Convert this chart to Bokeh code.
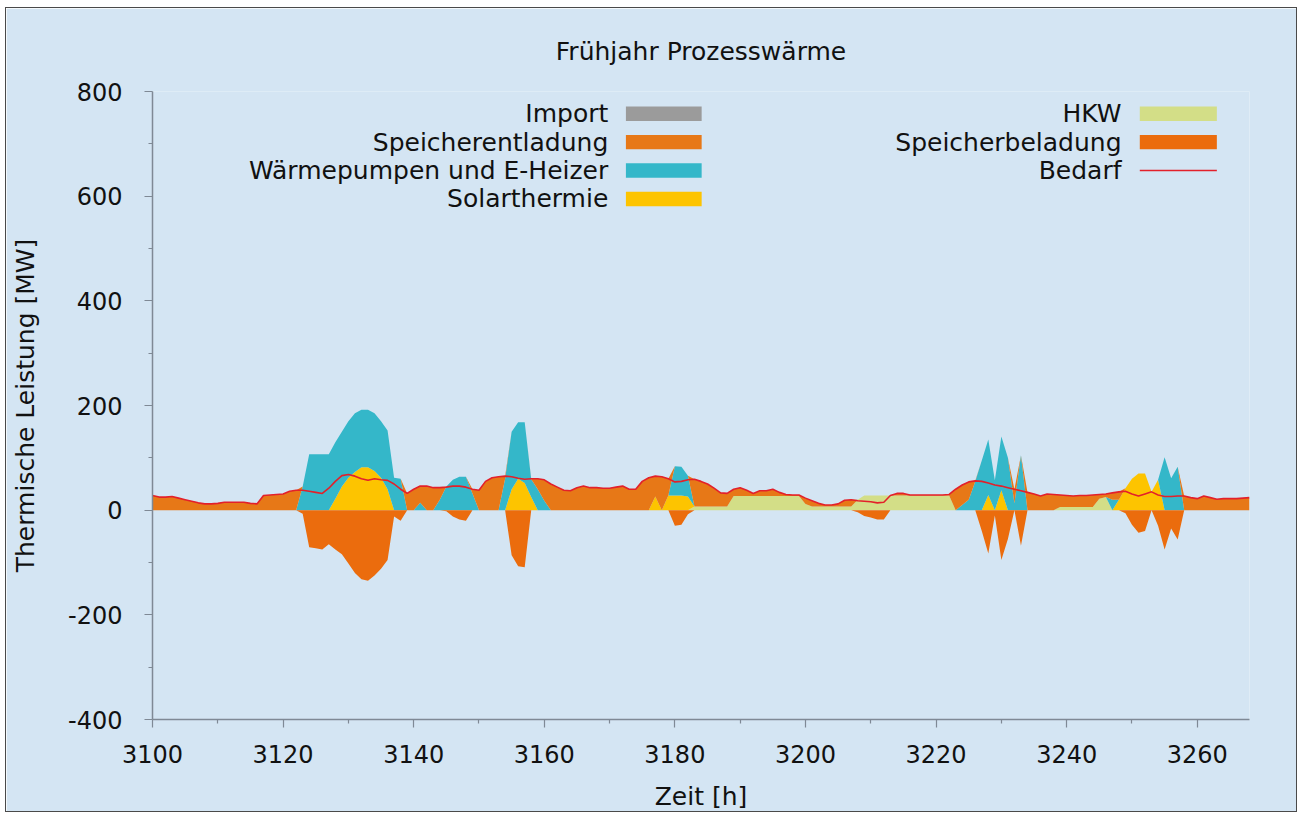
from bokeh.plotting import figure
from bokeh.models import ColumnDataSource, FixedTicker, Range1d, Label, BoxAnnotation
from bokeh.embed import file_html
from bokeh.resources import INLINE

# ---------------- data ----------------
hours = list(range(3100, 3269))

bedarf = [
    28, 25, 25, 26, 23, 20, 17, 14, 12, 12,   # 3100
    13, 15, 15, 15, 15, 13, 12, 28, 29, 30,   # 3110
    31, 36, 38, 38, 36, 34, 32, 42, 55, 66,   # 3120
    68, 65, 60, 57, 60, 58, 57, 50, 40, 32,   # 3130
    40, 46, 46, 43, 43, 44, 46, 46, 44, 40,   # 3140
    38, 55, 62, 64, 65, 64, 61, 59, 60, 60,   # 3150
    58, 50, 44, 38, 37, 43, 46, 43, 43, 42,   # 3160
    42, 44, 46, 40, 40, 55, 62, 65, 64, 60,   # 3170
    54, 55, 58, 59, 55, 50, 42, 33, 32, 40,   # 3180
    43, 38, 32, 37, 37, 40, 34, 30, 29, 29,   # 3190
    23, 18, 13, 10, 10, 12, 19, 20, 18, 17,   # 3200
    16, 14, 15, 28, 32, 32, 29, 29, 29, 29,   # 3210
    29, 29, 30, 40, 48, 54, 56, 55, 52, 48,   # 3220
    46, 43, 40, 37, 34, 31, 27, 31, 30, 29,   # 3230
    28, 27, 28, 28, 29, 30, 31, 33, 35, 36,   # 3240
    31, 27, 31, 35, 29, 26, 26, 27, 27, 24,   # 3250
    22, 27, 24, 21, 22, 22, 22, 23, 24,       # 3260
]

hkw = [
    0, 0, 0, 0, 0, 0, 0, 0, 0, 0,             # 3100
    0, 0, 0, 0, 0, 0, 0, 0, 0, 0,             # 3110
    0, 0, 0, 0, 0, 0, 0, 0, 0, 0,             # 3120
    0, 0, 0, 0, 0, 0, 0, 0, 0, 0,             # 3130
    0, 0, 0, 0, 0, 0, 0, 0, 0, 0,             # 3140
    0, 0, 0, 0, 0, 0, 0, 0, 0, 0,             # 3150
    0, 0, 0, 0, 0, 0, 0, 0, 0, 0,             # 3160
    0, 0, 0, 0, 0, 0, 0, 0, 0, 0,             # 3170
    0, 0, 0, 7, 7, 7, 7, 7, 7, 27,            # 3180
    27, 27, 27, 27, 27, 27, 27, 27, 27, 27,   # 3190
    12, 7, 7, 7, 7, 7, 7, 7, 20, 28,          # 3200
    28, 28, 28, 28, 28, 28, 28, 28, 28, 28,   # 3210
    28, 28, 28, 0, 0, 0, 0, 0, 0, 0,          # 3220
    0, 0, 0, 0, 0, 0, 0, 0, 0, 6,             # 3230
    6, 6, 6, 6, 6, 22, 25, 0, 0, 0,           # 3240
    0, 0, 0, 0, 0, 0, 0, 0, 0, 0,             # 3250
    0, 0, 0, 0, 0, 0, 0, 0, 0,                # 3260
]

solar = [
    0, 0, 0, 0, 0, 0, 0, 0, 0, 0,             # 3100
    0, 0, 0, 0, 0, 0, 0, 0, 0, 0,             # 3110
    0, 0, 0, 0, 0, 0, 0, 0, 22, 45,           # 3120
    62, 73, 82, 82, 75, 62, 40, 0, 0, 0,      # 3130
    0, 0, 0, 0, 0, 0, 0, 0, 0, 0,             # 3140
    0, 0, 0, 0, 0, 40, 60, 52, 25, 0,         # 3150
    0, 0, 0, 0, 0, 0, 0, 0, 0, 0,             # 3160
    0, 0, 0, 0, 0, 0, 0, 26, 0, 28,           # 3170
    28, 28, 26, 0, 0, 0, 0, 0, 0, 0,          # 3180
    0, 0, 0, 0, 0, 0, 0, 0, 0, 0,             # 3190
    0, 0, 0, 0, 0, 0, 0, 0, 0, 0,             # 3200
    0, 0, 0, 0, 0, 0, 0, 0, 0, 0,             # 3210
    0, 0, 0, 0, 0, 0, 0, 0, 29, 0,            # 3220
    38, 0, 0, 0, 0, 0, 0, 0, 0, 0,            # 3230
    0, 0, 0, 0, 0, 0, 0, 0, 20, 42,           # 3240
    60, 70, 70, 35, 58, 0, 0, 0, 0, 0,        # 3250
    0, 0, 0, 0, 0, 0, 0, 0, 0,                # 3260
]

waermepumpen = [
    0, 0, 0, 0, 0, 0, 0, 0, 0, 0,             # 3100
    0, 0, 0, 0, 0, 0, 0, 0, 0, 0,             # 3110
    0, 0, 0, 45, 107, 107, 107, 107, 108, 105,  # 3120
    108, 112, 110, 110, 110, 108, 112, 62, 60, 0,  # 3130
    0, 14, 0, 0, 20, 45, 58, 64, 64, 32,      # 3140
    0, 0, 0, 0, 60, 110, 108, 116, 34, 40,    # 3150
    18, 0, 0, 0, 0, 0, 0, 0, 0, 0,            # 3160
    0, 0, 0, 0, 0, 0, 0, 0, 0, 0,             # 3170
    56, 55, 40, 0, 0, 0, 0, 0, 0, 0,          # 3180
    0, 0, 0, 0, 0, 0, 0, 0, 0, 0,             # 3190
    0, 0, 0, 0, 0, 0, 0, 0, 0, 0,             # 3200
    0, 0, 0, 0, 0, 0, 0, 0, 0, 0,             # 3210
    0, 0, 0, 0, 10, 20, 55, 95, 106, 57,      # 3220
    103, 100, 13, 105, 0, 0, 0, 0, 0, 0,      # 3230
    0, 0, 0, 0, 0, 0, 0, 20, 0, 0,            # 3240
    0, 0, 0, 0, 0, 101, 61, 83, 0, 0,         # 3250
    0, 0, 0, 0, 0, 0, 0, 0, 0,                # 3260
]

speicherentladung = [
    28, 25, 25, 26, 23, 20, 17, 14, 12, 12,   # 3100
    13, 15, 15, 15, 15, 13, 12, 28, 29, 30,   # 3110
    31, 36, 38, 0, 0, 0, 0, 0, 0, 0,          # 3120
    0, 0, 0, 0, 0, 0, 0, 0, 0, 32,            # 3130
    40, 32, 46, 43, 23, 0, 0, 0, 0, 8,        # 3140
    38, 55, 62, 64, 5, 0, 0, 0, 1, 20,        # 3150
    40, 50, 44, 38, 37, 43, 46, 43, 43, 42,   # 3160
    42, 44, 46, 40, 40, 55, 62, 39, 64, 32,   # 3170
    0, 0, 0, 52, 48, 43, 35, 26, 25, 13,      # 3180
    16, 11, 5, 10, 10, 13, 7, 3, 2, 2,        # 3190
    11, 11, 6, 3, 3, 5, 12, 13, 0, 0,         # 3200
    0, 0, 0, 0, 4, 4, 1, 1, 1, 1,             # 3210
    1, 1, 2, 40, 38, 34, 1, 0, 0, 0,          # 3220
    0, 0, 27, 0, 34, 31, 27, 31, 30, 23,      # 3230
    22, 21, 22, 22, 23, 8, 6, 13, 15, 0,      # 3240
    0, 0, 0, 0, 0, 0, 0, 0, 27, 24,           # 3250
    22, 27, 24, 21, 22, 22, 22, 23, 24,       # 3260
]

speicherbeladung = [
    0, 0, 0, 0, 0, 0, 0, 0, 0, 0,             # 3100
    0, 0, 0, 0, 0, 0, 0, 0, 0, 0,             # 3110
    0, 0, 0, -7, -71, -73, -75, -65, -75, -84,  # 3120
    -102, -120, -132, -135, -125, -112, -95, -12, -20, 0,  # 3130
    0, 0, 0, 0, 0, -2, -12, -18, -20, 0,      # 3140
    0, 0, 0, 0, 0, -86, -107, -109, 0, 0,     # 3150
    0, 0, 0, 0, 0, 0, 0, 0, 0, 0,             # 3160
    0, 0, 0, 0, 0, 0, 0, 0, 0, 0,             # 3170
    -30, -28, -8, 0, 0, 0, 0, 0, 0, 0,        # 3180
    0, 0, 0, 0, 0, 0, 0, 0, 0, 0,             # 3190
    0, 0, 0, 0, 0, 0, 0, 0, -4, -11,          # 3200
    -14, -18, -18, 0, 0, 0, 0, 0, 0, 0,       # 3210
    0, 0, 0, 0, 0, 0, 0, -40, -83, -10,       # 3220
    -95, -55, 0, -68, 0, 0, 0, 0, 0, 0,       # 3230
    0, 0, 0, 0, 0, 0, 0, 0, 0, -6,            # 3240
    -28, -43, -40, 0, -30, -75, -35, -56, 0, 0,  # 3250
    0, 0, 0, 0, 0, 0, 0, 0, 0,                # 3260
]

y_ticks = [-400, -200, 0, 200, 400, 600, 800]
y_minor = [-300, -100, 100, 300, 500, 700]
x_ticks = [3100, 3120, 3140, 3160, 3180, 3200, 3220, 3240, 3260]
x_minor = [3110, 3130, 3150, 3170, 3190, 3210, 3230, 3250]

title_text = "Frühjahr Prozesswärme"
legend_left = ["Import", "Speicherentladung", "Wärmepumpen und E-Heizer", "Solarthermie"]
legend_right = ["HKW", "Speicherbeladung", "Bedarf"]

# ---------------- styles ----------------
BG = "#d4e5f3"
C_IMPORT = "#9b9b9b"
C_SE = "#e77817"
C_WP = "#34b7c9"
C_SOLAR = "#fdc400"
C_HKW = "#d3de87"
C_SB = "#eb6c0d"
C_BEDARF = "#e3202a"
AXIS_C = "#7f8995"
FONT = "DejaVu Sans"

src = ColumnDataSource(dict(
    x=hours, hkw=hkw, solar=solar, wp=waermepumpen, se=speicherentladung,
    sb=speicherbeladung, bedarf=bedarf,
))

p = figure(
    width=1292, height=805,
    x_range=Range1d(3100, 3268), y_range=Range1d(-400, 800),
    output_backend="svg", toolbar_location=None,
    min_border_left=146, min_border_right=49, min_border_top=83, min_border_bottom=94,
    title=title_text,
)
p.styles = {"border": "1px solid #4a4a4a", "margin-left": "5px", "margin-top": "7px"}

p.background_fill_color = BG
p.border_fill_color = BG
p.outline_line_color = None
p.xgrid.grid_line_color = None
p.ygrid.grid_line_color = None

p.title.align = "center"
p.title.text_font = FONT
p.title.text_font_size = "25px"
p.title.text_font_style = "normal"
p.title.text_color = "#111111"
p.title.standoff = 52

# stacked positive areas (bottom -> top)
p.varea_stack(["hkw", "solar", "wp", "se"], x="x",
              color=[C_HKW, C_SOLAR, C_WP, C_SE], source=src)
# storage charging (negative)
p.varea(x="x", y1=0, y2="sb", color=C_SB, source=src)
# demand line
p.line(x="x", y="bedarf", color=C_BEDARF, line_width=1.6, source=src)

# axes
p.xaxis.ticker = FixedTicker(ticks=x_ticks, minor_ticks=x_minor)
p.yaxis.ticker = FixedTicker(ticks=y_ticks, minor_ticks=y_minor)
p.yaxis.major_label_overrides = {t: str(t) for t in y_ticks}
p.xaxis.axis_label = "Zeit [h]"
p.yaxis.axis_label = "Thermische Leistung [MW]"
for ax in (p.xaxis[0], p.yaxis[0]):
    ax.axis_line_color = AXIS_C
    ax.axis_line_width = 1.5
    ax.major_tick_line_color = AXIS_C
    ax.major_tick_line_width = 1.2
    ax.major_tick_out = 8
    ax.major_tick_in = 0
    ax.minor_tick_line_color = AXIS_C
    ax.minor_tick_line_width = 1.2
    ax.minor_tick_out = 4
    ax.minor_tick_in = 0
    ax.major_label_text_font = FONT
    ax.major_label_text_font_size = "24px"
    ax.major_label_text_color = "#111111"
    ax.axis_label_text_font = FONT
    ax.axis_label_text_font_size = "25px"
    ax.axis_label_text_font_style = "normal"
    ax.axis_label_text_color = "#111111"
p.yaxis.major_label_standoff = 22
p.yaxis.axis_label_standoff = 25
p.xaxis.major_label_standoff = 17
p.xaxis.axis_label_standoff = 16

# legend (labels left of swatches), positioned in data space
left_rows = [757.5, 703.3, 648.9, 594.7]
left_cols = [C_IMPORT, C_SE, C_WP, C_SOLAR]
for lbl, yy, c in zip(legend_left, left_rows, left_cols):
    p.add_layout(Label(x=3169.8, y=yy, text=lbl, text_align="right", text_baseline="middle",
                       text_font=FONT, text_font_size="25px", text_color="#111111"))
    p.add_layout(BoxAnnotation(left=3172.5, right=3184.1, bottom=yy - 13.8, top=yy + 13.8,
                               fill_color=c, fill_alpha=1, line_color=None))

right_rows = [757.5, 703.3, 648.9]
for lbl, yy in zip(legend_right, right_rows):
    p.add_layout(Label(x=3248.4, y=yy, text=lbl, text_align="right", text_baseline="middle",
                       text_font=FONT, text_font_size="25px", text_color="#111111"))
p.add_layout(BoxAnnotation(left=3251.2, right=3263.0, bottom=right_rows[0] - 13.8, top=right_rows[0] + 13.8,
                           fill_color=C_HKW, fill_alpha=1, line_color=None))
p.add_layout(BoxAnnotation(left=3251.2, right=3263.0, bottom=right_rows[1] - 13.8, top=right_rows[1] + 13.8,
                           fill_color=C_SB, fill_alpha=1, line_color=None))
p.add_layout(BoxAnnotation(left=3251.2, right=3263.0, bottom=right_rows[2] - 1.5, top=right_rows[2] + 1.5,
                           fill_color=C_BEDARF, fill_alpha=1, line_color=None))

open("out.html", "w").write(file_html(p, INLINE))
